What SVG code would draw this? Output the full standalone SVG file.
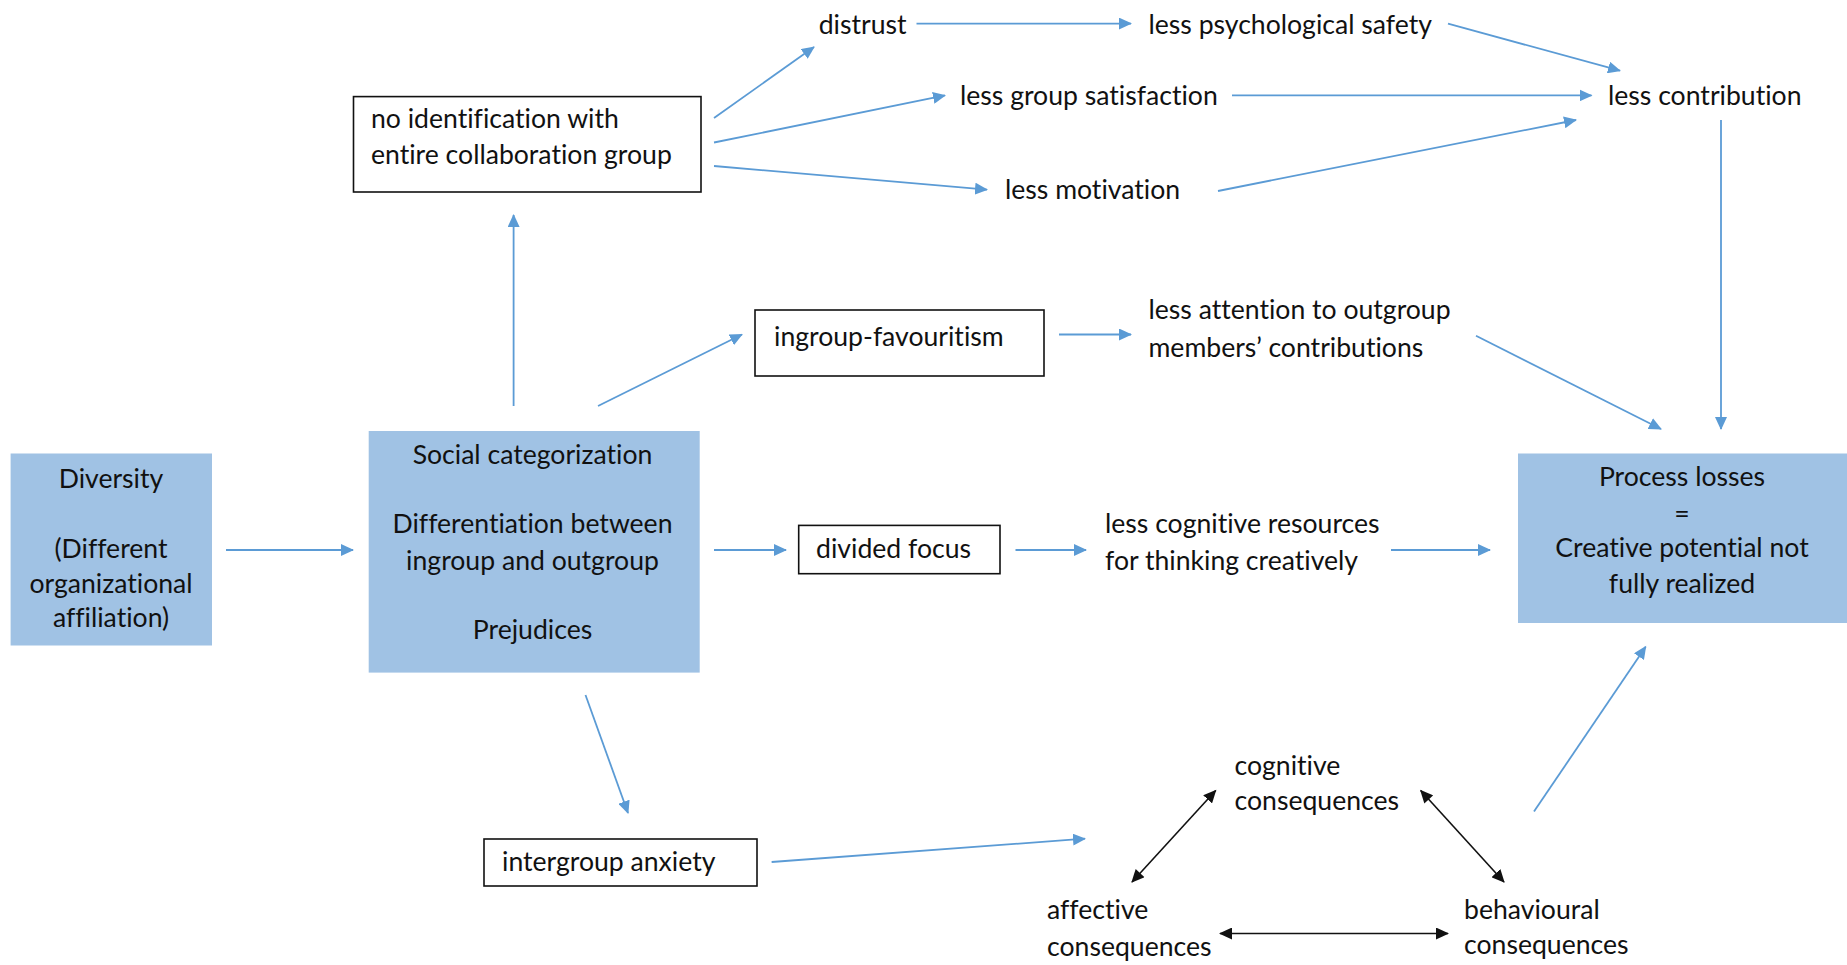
<svg xmlns="http://www.w3.org/2000/svg" width="1847" height="965" viewBox="0 0 1847 965">
<style>
text{font-family:Lato,"Liberation Sans",sans-serif;font-size:26.6px;fill:#111;font-variant-ligatures:none}
.c{text-anchor:middle}
.fill{fill:#A0C2E4;stroke:none}
.box{fill:#fff;stroke:#111;stroke-width:1.6}
.b{stroke:#5B9BD5;stroke-width:1.8;fill:none;marker-end:url(#ab)}
.k{stroke:#111;stroke-width:1.6;fill:none;marker-end:url(#ak);marker-start:url(#aks)}
</style>
<defs>
<marker id="ab" markerUnits="userSpaceOnUse" markerWidth="14" markerHeight="12" refX="12" refY="6" orient="auto"><path d="M0,0 L13,6 L0,12 Z" fill="#5B9BD5"/></marker>
<marker id="ak" markerUnits="userSpaceOnUse" markerWidth="14" markerHeight="12" refX="12" refY="6" orient="auto"><path d="M0,0 L13,6 L0,12 Z" fill="#111"/></marker>
<marker id="aks" markerUnits="userSpaceOnUse" markerWidth="14" markerHeight="12" refX="1" refY="6" orient="auto"><path d="M13,0 L0,6 L13,12 Z" fill="#111"/></marker>
</defs>
<rect width="1847" height="965" fill="#fff"/>
<g id="connectors">
<line class="b" x1="226" y1="550" x2="353" y2="550"/>
<line class="b" x1="513.6" y1="406" x2="513.6" y2="215"/>
<line class="b" x1="598" y1="406" x2="742" y2="334.5"/>
<line class="b" x1="714" y1="550" x2="786" y2="550"/>
<line class="b" x1="585.5" y1="695" x2="628" y2="813"/>
<line class="b" x1="714" y1="118" x2="814" y2="47"/>
<line class="b" x1="714" y1="142.5" x2="945" y2="95.4"/>
<line class="b" x1="714" y1="166" x2="987" y2="189.7"/>
<line class="b" x1="916.5" y1="23.6" x2="1131" y2="23.6"/>
<line class="b" x1="1448" y1="23.6" x2="1620" y2="70.7"/>
<line class="b" x1="1232" y1="95.4" x2="1591.5" y2="95.4"/>
<line class="b" x1="1218" y1="191" x2="1576" y2="120"/>
<line class="b" x1="1721" y1="120" x2="1721" y2="429"/>
<line class="b" x1="1059" y1="334.5" x2="1131" y2="334.5"/>
<line class="b" x1="1476" y1="335.7" x2="1661" y2="429"/>
<line class="b" x1="1015.5" y1="550" x2="1086" y2="550"/>
<line class="b" x1="1391" y1="550" x2="1490" y2="550"/>
<line class="b" x1="771.6" y1="862" x2="1085" y2="838.7"/>
<line class="b" x1="1534" y1="811.6" x2="1645.7" y2="646.7"/>
<line class="k" x1="1132" y1="882" x2="1215.7" y2="790.5"/>
<line class="k" x1="1420.7" y1="790.5" x2="1504" y2="882"/>
<line class="k" x1="1220" y1="933.5" x2="1448" y2="933.5"/>
</g>
<g id="diversity">
<rect class="fill" x="10.6" y="453.5" width="201.4" height="192"/>
<text class="c" x="111" y="488">Diversity</text>
<text class="c" x="111" y="558">(Different</text>
<text class="c" x="111" y="593">organizational</text>
<text class="c" x="111" y="627">affiliation)</text>
</g>
<g id="social-categorization">
<rect class="fill" x="368.7" y="431" width="331" height="241.6"/>
<text class="c" x="532.5" y="464">Social categorization</text>
<text class="c" x="532.5" y="533">Differentiation between</text>
<text class="c" x="532.5" y="570">ingroup and outgroup</text>
<text class="c" x="532.5" y="639">Prejudices</text>
</g>
<g id="no-identification">
<rect class="box" x="353.5" y="96.6" width="347.5" height="95.4"/>
<text x="371" y="128">no identification with</text>
<text x="371" y="163.5">entire collaboration group</text>
</g>
<g id="ingroup-favouritism">
<rect class="box" x="755" y="310" width="289" height="66"/>
<text x="774" y="346">ingroup-favouritism</text>
</g>
<g id="divided-focus">
<rect class="box" x="798.7" y="525.4" width="201.3" height="48.3"/>
<text x="816" y="558">divided focus</text>
</g>
<g id="intergroup-anxiety">
<rect class="box" x="484" y="839" width="273" height="47"/>
<text x="502" y="871">intergroup anxiety</text>
</g>
<g id="process-losses">
<rect class="fill" x="1518" y="453.5" width="329" height="169.5"/>
<text class="c" x="1682" y="486">Process losses</text>
<text class="c" x="1682" y="523">=</text>
<text class="c" x="1682" y="557">Creative potential not</text>
<text class="c" x="1682" y="593">fully realized</text>
</g>
<g id="distrust"><text x="818.7" y="34">distrust</text></g>
<g id="less-psychological-safety"><text x="1148.5" y="34">less psychological safety</text></g>
<g id="less-group-satisfaction"><text x="960" y="104.6">less group satisfaction</text></g>
<g id="less-contribution"><text x="1608" y="104.6">less contribution</text></g>
<g id="less-motivation"><text x="1005" y="199">less motivation</text></g>
<g id="less-attention">
<text x="1148.5" y="319">less attention to outgroup</text>
<text x="1148.5" y="356.7">members’ contributions</text>
</g>
<g id="less-cognitive-resources">
<text x="1105" y="533.4">less cognitive resources</text>
<text x="1105" y="570">for thinking creatively</text>
</g>
<g id="cognitive-consequences">
<text x="1234.5" y="775">cognitive</text>
<text x="1234.5" y="810">consequences</text>
</g>
<g id="affective-consequences">
<text x="1047" y="918.6">affective</text>
<text x="1047" y="956">consequences</text>
</g>
<g id="behavioural-consequences">
<text x="1464" y="918.6">behavioural</text>
<text x="1464" y="954">consequences</text>
</g>
</svg>
